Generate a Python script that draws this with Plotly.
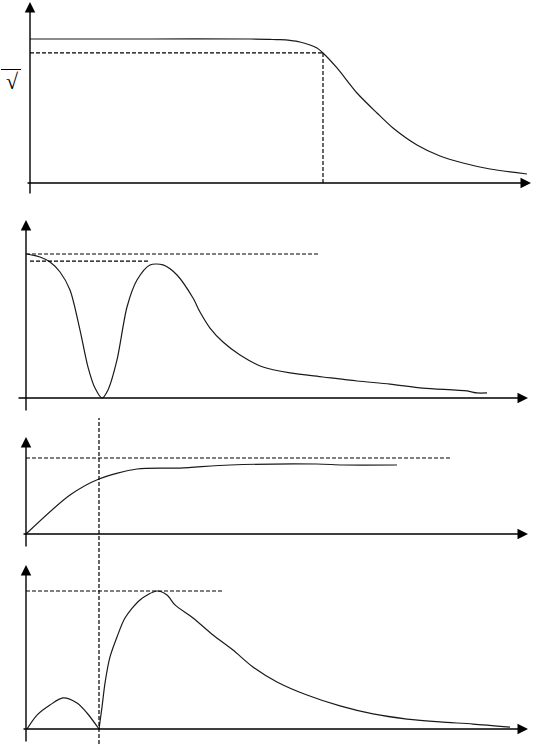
import plotly.graph_objects as go

W, H = 534, 744

# ---------------- data (x in relative frequency units, y relative to reference level) ----------------
# Panel 1: low-pass magnitude response
p1_x = [0, 24, 44, 48, 50, 52, 54, 57.4, 58.6, 61.4, 65.4, 69.4, 72.6, 77.4, 82, 86.6, 92, 99.4]
p1_y = [1.0, 1.0, 1.0, 0.997, 0.995, 0.99, 0.979, 0.9375, 0.903, 0.799, 0.625, 0.486, 0.382, 0.264, 0.1875, 0.139, 0.097, 0.0625]
p1_cut_x = 58.6
p1_cut_y = 0.903

# Panel 2: response with a notch
p2_x = [0.2, 2.8, 4.8, 6.8, 8.8, 10.8, 12.4, 13.8, 15.2, 16.4, 18.2, 20.2, 22.2, 24.8, 27.4, 30.2,
        33.4, 34.8, 36.8, 39.4, 42.8, 47.4, 52.8, 59.4, 66.2, 72.8, 79.4, 88.2, 90.2, 92.2]
p2_y = [1.0, 0.979, 0.944, 0.875, 0.75, 0.472, 0.215, 0.069, 0.0, 0.056, 0.264, 0.632, 0.819, 0.924, 0.924, 0.854,
        0.694, 0.597, 0.486, 0.389, 0.299, 0.215, 0.174, 0.146, 0.118, 0.097, 0.069, 0.049, 0.035, 0.035]
p2_ref_hi = 1.0
p2_ref_hi_end = 58.4
p2_ref_lo = 0.951
p2_ref_lo_start = 0.8
p2_ref_lo_end = 24.8

# Panel 3: rising, saturating curve
p3_x = [0, 8.8, 14.6, 22.2, 30.8, 40.8, 58.2, 63.4, 74.2]
p3_y = [0, 0.513, 0.724, 0.855, 0.868, 0.908, 0.921, 0.908, 0.908]
p3_ref = 1.0
p3_ref_end = 84.8
marker_x = 14.6

# Panel 4: small lobe, then main lobe starting at the cusp (marker_x)
p4a_x = [0.2, 2.2, 4.8, 7.4, 10.2, 12.2, 14.6]
p4a_y = [0, 0.101, 0.174, 0.225, 0.188, 0.116, 0]
p4b_x = [14.6, 15.2, 15.8, 16.8, 18.2, 19.8, 22.8, 26.2, 28.2, 29.8, 33.4,
         37.4, 41.4, 45.4, 50.2, 56.2, 62.8, 69.4, 76.2, 82.8, 89.4, 96.8]
p4b_y = [0, 0.159, 0.333, 0.522, 0.667, 0.804, 0.935, 1.0, 0.971, 0.899, 0.804,
         0.681, 0.572, 0.449, 0.341, 0.246, 0.167, 0.109, 0.072, 0.051, 0.036, 0.014]
p4_ref = 1.0
p4_ref_end = 39.2

# ---------------- figure ----------------
fig = go.Figure()
CURVE = '#1a1a1a'
DASH = '4px,2px'


def line(x, y, xa, ya, dash=None, width=1.2, color=CURVE, smooth=False):
    ln = dict(color=color, width=width, dash=dash)
    if smooth:
        ln.update(shape='spline', smoothing=0.8)
    fig.add_trace(go.Scatter(x=x, y=y, mode='lines', xaxis=xa, yaxis=ya, line=ln,
                             hoverinfo='skip', showlegend=False))


def arrow(xa, ya, x0, y0, x1, y1):
    fig.add_annotation(x=x1, y=y1, ax=x0, ay=y0, xref=xa, yref=ya, axref=xa, ayref=ya,
                       text='', showarrow=True, arrowhead=2, arrowsize=1.5, arrowwidth=1.4,
                       arrowcolor='black', standoff=0, startstandoff=0)


# panel 1
line(p1_x, p1_y, 'x', 'y', smooth=True)
line([0, p1_cut_x], [p1_cut_y, p1_cut_y], 'x', 'y', dash=DASH, width=1.2, color='black')
line([p1_cut_x, p1_cut_x], [p1_cut_y, 0], 'x', 'y', dash=DASH, width=1.2, color='black')
arrow('x', 'y', -0.8, 0, 100.2, 0)
arrow('x', 'y', 0, -0.083, 0, 1.257)

# panel 2
line(p2_x, p2_y, 'x2', 'y2', smooth=True)
line([0, p2_ref_hi_end], [p2_ref_hi, p2_ref_hi], 'x2', 'y2', dash=DASH, width=1.2, color='black')
line([p2_ref_lo_start, p2_ref_lo_end], [p2_ref_lo, p2_ref_lo], 'x2', 'y2', dash=DASH, width=1.2, color='black')
arrow('x2', 'y2', -1.8, 0, 100.4, 0)
arrow('x2', 'y2', 0, -0.097, 0, 1.236)

# panel 3
line(p3_x, p3_y, 'x3', 'y3', smooth=True)
line([0, p3_ref_end], [p3_ref, p3_ref], 'x3', 'y3', dash=DASH, width=1.2, color='black')
arrow('x3', 'y3', -0.8, 0, 100.4, 0)
arrow('x3', 'y3', 0, -0.184, 0, 1.276)

# panel 4
line(p4a_x, p4a_y, 'x4', 'y4', smooth=True)
line(p4b_x, p4b_y, 'x4', 'y4', smooth=True)
line([0, p4_ref_end], [p4_ref, p4_ref], 'x4', 'y4', dash=DASH, width=1.2, color='black')
arrow('x4', 'y4', -0.8, 0, 100.4, 0)
arrow('x4', 'y4', 0, -0.101, 0, 1.188)

# vertical marker crossing panels 3 and 4
fig.add_shape(type='line', xref='x3', yref='paper', x0=marker_x, x1=marker_x,
              y0=0, y1=1 - 418 / H, line=dict(color='black', width=1.2, dash=DASH))

# radical symbol label on panel 1
fig.add_shape(type='line', xref='paper', yref='paper', x0=1 / W, x1=21 / W,
              y0=1 - 69.5 / H, y1=1 - 69.5 / H, line=dict(color='black', width=1))
fig.add_annotation(xref='paper', yref='paper', x=12 / W, y=1 - 81 / H, text='√',
                   showarrow=False, font=dict(family='Liberation Serif', size=22, color='black'),
                   xanchor='center', yanchor='middle')


def yax(base_px, unit_px, top_px, bot_px):
    return dict(domain=[1 - bot_px / H, 1 - top_px / H],
                range=[(base_px - bot_px) / unit_px, (base_px - top_px) / unit_px],
                visible=False, fixedrange=True)


def xax(origin_px, unit_px, anchor):
    return dict(domain=[0, 1], range=[-origin_px / unit_px, (W - origin_px) / unit_px],
                visible=False, fixedrange=True, anchor=anchor)


fig.update_layout(
    width=W, height=H, margin=dict(l=0, r=0, t=0, b=0),
    paper_bgcolor='white', plot_bgcolor='white', showlegend=False,
    xaxis=xax(30, 5, 'y'), yaxis=yax(183, 144, 0, 200),
    xaxis2=xax(26, 5, 'y2'), yaxis2=yax(398, 144, 205, 415),
    xaxis3=xax(26, 5, 'y3'), yaxis3=yax(534, 76, 425, 550),
    xaxis4=xax(26, 5, 'y4'), yaxis4=yax(729, 138, 555, 744),
)

fig.write_html("out.html", config={'displayModeBar': False},
               post_script="document.body.style.margin='0';document.body.style.padding='0';"
                           "document.documentElement.style.overflow='hidden';")
